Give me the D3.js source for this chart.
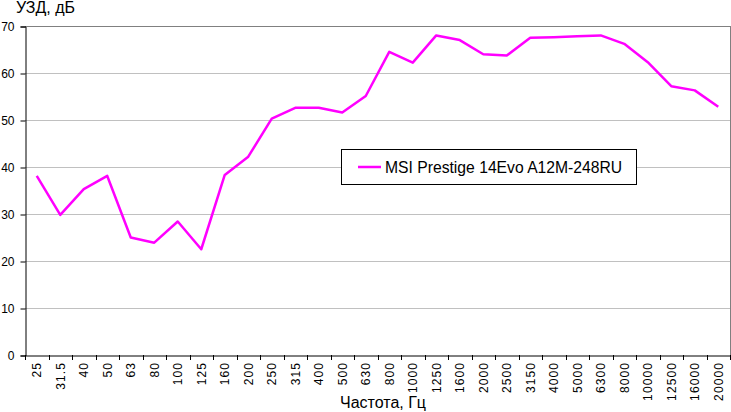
<!DOCTYPE html>
<html><head><meta charset="utf-8">
<script src="https://cdn.jsdelivr.net/npm/d3@7"></script>
<style>
html,body{margin:0;padding:0;background:#fff;}
svg{display:block;font-family:Arial,"Liberation Sans",sans-serif;}
</style></head>
<body>
<svg id="c" width="731" height="412"></svg>
<script>
const categories = ["25","31.5","40","50","63","80","100","125","160","200","250","315","400","500","630","800","1000","1250","1600","2000","2500","3150","4000","5000","6300","8000","10000","12500","16000","20000"];
const seriesName = "MSI Prestige 14Evo A12M-248RU";
const values = [38.1,29.8,35.3,38.1,25.0,23.9,28.4,22.5,38.3,42.2,50.3,52.6,52.6,51.6,55.1,64.5,62.2,68.0,67.0,64.0,63.7,67.5,67.6,67.8,68.0,66.2,62.3,57.2,56.3,52.8];
const yTicks = [0,10,20,30,40,50,60,70];
const yTitle = "УЗД, дБ";
const xTitle = "Частота, Гц";

const svg = d3.select("#c");
const L = 25, R = 730, T = 26, B = 355;
const x = d3.scaleBand().domain(categories).range([L, R]).padding(0);
const y = d3.scaleLinear().domain([0, 70]).range([B, T]);

// gridlines
svg.append("g").selectAll("line").data(yTicks.filter(d => d > 0)).join("line")
  .attr("x1", L).attr("x2", R)
  .attr("y1", d => Math.round(y(d)) + 0.5).attr("y2", d => Math.round(y(d)) + 0.5)
  .attr("stroke", d => d === 70 ? "#808080" : "#c0c0c0").attr("stroke-width", 1);
// right border
svg.append("line").attr("x1", R + 0.5).attr("x2", R + 0.5).attr("y1", T).attr("y2", B)
  .attr("stroke", "#808080");

// y axis
const yAxis = d3.axisLeft(y).tickValues(yTicks).tickSize(5).tickPadding(6).tickFormat(d3.format("d"));
const gy = svg.append("g").attr("transform", `translate(${L + 0.5},0.5)`).call(yAxis);
gy.select(".domain").attr("stroke", "#000");
gy.selectAll(".tick line").attr("stroke", "#000");
gy.selectAll(".tick text").attr("font-size", 12).attr("fill", "#000")
  .attr("font-family", "Arial, 'Liberation Sans', sans-serif").attr("dy", "0.36em");

// x axis
const xAxis = d3.axisBottom(x).tickSize(0).tickFormat("");
const gx = svg.append("g").attr("transform", `translate(0,${B + 0.5})`).call(xAxis);
gx.select(".domain").attr("stroke", "#000");
// boundary ticks
const bounds = categories.map(c => x(c)).concat([R]);
svg.append("g").selectAll("line").data(bounds).join("line")
  .attr("x1", d => Math.round(d) + 0.5).attr("x2", d => Math.round(d) + 0.5)
  .attr("y1", B).attr("y2", B + 5).attr("stroke", "#000");
// x labels rotated
svg.append("g").selectAll("text").data(categories).join("text")
  .attr("transform", d => `translate(${x(d) + x.bandwidth() / 2 + 4.5},362) rotate(-90)`)
  .attr("text-anchor", "end").attr("font-size", 12).attr("letter-spacing", 1.1)
  .attr("fill", "#000").text(d => d);

// line
const line = d3.line().x((d, i) => x(categories[i]) + x.bandwidth() / 2).y(d => y(d));
svg.append("path").datum(values).attr("d", line).attr("fill", "none")
  .attr("stroke", "#ff00ff").attr("stroke-width", 2.5).attr("stroke-linejoin", "round");

// titles
svg.append("text").attr("x", 16).attr("y", 12.5).attr("font-size", 16).attr("fill", "#000").text(yTitle);
svg.append("text").attr("x", 383).attr("y", 408).attr("text-anchor", "middle")
  .attr("font-size", 16).attr("fill", "#000").text(xTitle);

// legend
const lg = svg.append("g");
lg.append("rect").attr("x", 341.5).attr("y", 149.5).attr("width", 295).attr("height", 35)
  .attr("fill", "#fff").attr("stroke", "#000");
lg.append("line").attr("x1", 358).attr("x2", 381).attr("y1", 167).attr("y2", 167)
  .attr("stroke", "#ff00ff").attr("stroke-width", 2.5);
lg.append("text").attr("x", 385).attr("y", 173).attr("font-size", 15.7).attr("fill", "#000").text(seriesName);
</script>
</body></html>
